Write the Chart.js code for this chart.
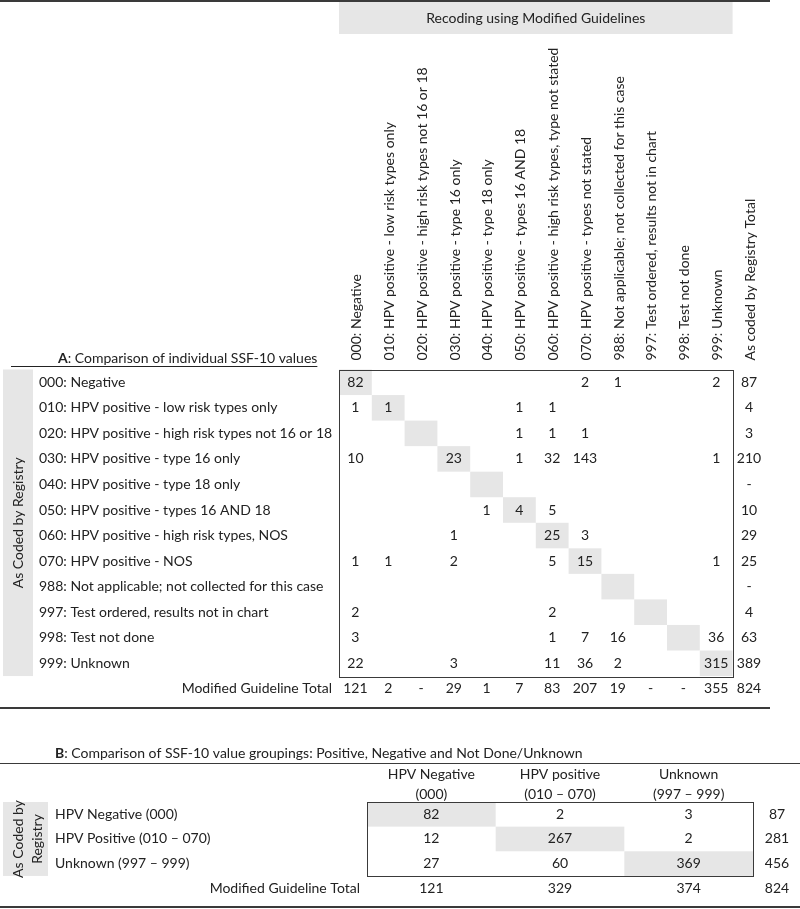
<!DOCTYPE html>
<html>
<head>
<meta charset="utf-8">
<script src="https://cdn.jsdelivr.net/npm/chart.js@4.4.1/dist/chart.umd.min.js"></script>
<style>
  html, body { margin: 0; padding: 0; background: #fff; }
  #wrap { position: relative; width: 800px; height: 909px; }
  #tableA { position: absolute; left: 0; top: 0; }
  #tableB { position: absolute; left: 0; top: 710px; }
</style>
</head>
<body>
<div id="wrap">
  <canvas id="tableA" width="800" height="710"></canvas>
  <canvas id="tableB" width="800" height="199"></canvas>
</div>
<script>
// ---- table A: individual SSF-10 values ----
const modifiedCodes = [
  '000: Negative',
  '010: HPV positive - low risk types only',
  '020: HPV positive - high risk types not 16 or 18',
  '030: HPV positive - type 16 only',
  '040: HPV positive - type 18 only',
  '050: HPV positive - types 16 AND 18',
  '060: HPV positive - high risk types, type not stated',
  '070: HPV positive - types not stated',
  '988: Not applicable; not collected for this case',
  '997: Test ordered, results not in chart',
  '998: Test not done',
  '999: Unknown'
];
const registryCodes = [
  '000: Negative',
  '010: HPV positive - low risk types only',
  '020: HPV positive - high risk types not 16 or 18',
  '030: HPV positive - type 16 only',
  '040: HPV positive - type 18 only',
  '050: HPV positive - types 16 AND 18',
  '060: HPV positive - high risk types, NOS',
  '070: HPV positive - NOS',
  '988: Not applicable; not collected for this case',
  '997: Test ordered, results not in chart',
  '998: Test not done',
  '999: Unknown'
];
const registryTotalLabel = 'As coded by Registry Total';
const guidelineTotalLabel = 'Modified Guideline Total';
const headerA = 'Recoding using Modified Guidelines';
const sideLabelA = 'As Coded by Registry';

// rows = as coded by registry, columns = modified guideline recode
const countsA = [
  [82, null, null, null, null, null, null, 2, 1, null, null, 2],
  [1, 1, null, null, null, 1, 1, null, null, null, null, null],
  [null, null, null, null, null, 1, 1, 1, null, null, null, null],
  [10, null, null, 23, null, 1, 32, 143, null, null, null, 1],
  [null, null, null, null, null, null, null, null, null, null, null, null],
  [null, null, null, null, 1, 4, 5, null, null, null, null, null],
  [null, null, null, 1, null, null, 25, 3, null, null, null, null],
  [1, 1, null, 2, null, null, 5, 15, null, null, null, 1],
  [null, null, null, null, null, null, null, null, null, null, null, null],
  [2, null, null, null, null, null, 2, null, null, null, null, null],
  [3, null, null, null, null, null, 1, 7, 16, null, null, 36],
  [22, null, null, 3, null, null, 11, 36, 2, null, null, 315]
];
const registryTotalsA = [87, 4, 3, 210, 0, 10, 29, 25, 0, 4, 63, 389];
const guidelineTotalsA = [121, 2, 0, 29, 1, 7, 83, 207, 19, 0, 0, 355];
const grandTotalA = 824;

// ---- table B: value groupings ----
const groupCols = [['HPV Negative', '(000)'], ['HPV positive', '(010 \u2013 070)'], ['Unknown', '(997 \u2013 999)']];
const groupColKeys = groupCols.map(c => c.join(' '));
const groupRows = ['HPV Negative (000)', 'HPV Positive (010 \u2013 070)', 'Unknown (997 \u2013 999)'];
const sideLabelB = ['As Coded by', 'Registry'];
const countsB = [
  [82, 2, 3],
  [12, 267, 2],
  [27, 60, 369]
];
const registryTotalsB = [87, 281, 456];
const guidelineTotalsB = [121, 329, 374];
const grandTotalB = 824;

const FONT = 'Lato, "Liberation Sans", sans-serif';
const FS = 14;
const INK = '#222222';
const SHADE = '#e6e6e6';
const RULE = '#3a3a3a';

const fmt = v => (v === 0 ? '-' : String(v));

// shaded diagonal + cell numbers, placed by the category scales
const cellPlugin = {
  id: 'cells',
  beforeDatasetsDraw(chart) {
    const { ctx, scales: { x, y } } = chart;
    const cw = x.width / x.ticks.length;
    const rh = y.height / y.ticks.length;
    ctx.save();
    ctx.fillStyle = SHADE;
    chart.data.datasets.forEach((ds, i) => {
      if (!ds.shade) return;
      chart.getDatasetMeta(i).data.forEach(el => {
        ctx.fillRect(el.x - cw / 2, el.y - rh / 2, cw, rh);
      });
    });
    ctx.restore();
  },
  afterDatasetsDraw(chart) {
    const ctx = chart.ctx;
    ctx.save();
    ctx.font = FS + 'px ' + FONT;
    ctx.fillStyle = INK;
    ctx.textAlign = 'center';
    ctx.textBaseline = 'middle';
    chart.data.datasets.forEach((ds, i) => {
      if (ds.shade) return;
      chart.getDatasetMeta(i).data.forEach((el, k) => {
        ctx.fillText(ds.data[k].text, el.x, el.y);
      });
    });
    ctx.restore();
  }
};

function drawTitle(ctx, key, rest, x, y) {
  ctx.font = 'bold ' + FS + 'px ' + FONT;
  ctx.textAlign = 'left';
  ctx.textBaseline = 'middle';
  ctx.fillText(key, x, y);
  const w = ctx.measureText(key).width;
  ctx.font = FS + 'px ' + FONT;
  ctx.fillText(rest, x + w, y);
  return x + w + ctx.measureText(rest).width;
}

function rule(ctx, x0, x1, y, w) {
  ctx.beginPath();
  ctx.lineWidth = w;
  ctx.moveTo(x0, y);
  ctx.lineTo(x1, y);
  ctx.stroke();
}

// ---- chart A ----
const cellsA = [];
countsA.forEach((row, r) => row.forEach((v, c) => {
  if (v !== null) cellsA.push({ x: modifiedCodes[c], y: registryCodes[r], text: fmt(v) });
}));
registryTotalsA.forEach((v, r) => cellsA.push({ x: registryTotalLabel, y: registryCodes[r], text: fmt(v) }));
guidelineTotalsA.forEach((v, c) => cellsA.push({ x: modifiedCodes[c], y: guidelineTotalLabel, text: fmt(v) }));
cellsA.push({ x: registryTotalLabel, y: guidelineTotalLabel, text: fmt(grandTotalA) });
const diagA = registryCodes.map((r, i) => ({ x: modifiedCodes[i], y: r }));

const decorA = {
  id: 'decorA',
  beforeDraw(chart) {
    const { ctx, chartArea: a, scales: { x, y } } = chart;
    const boxR = a.left + x.width / x.ticks.length * modifiedCodes.length;
    const boxB = a.top + y.height / y.ticks.length * registryCodes.length;
    ctx.save();
    ctx.fillStyle = SHADE;
    ctx.fillRect(a.left, 2, boxR - a.left, 32);
    ctx.fillRect(3, a.top, 30, boxB - a.top);
    ctx.restore();
  },
  afterDraw(chart) {
    const { ctx, chartArea: a, scales: { x, y } } = chart;
    const boxR = a.left + x.width / x.ticks.length * modifiedCodes.length;
    const boxB = a.top + y.height / y.ticks.length * registryCodes.length;
    ctx.save();
    ctx.strokeStyle = RULE;
    ctx.lineWidth = 1;
    ctx.strokeRect(Math.round(a.left) + 0.5, Math.round(a.top) + 0.5, Math.round(boxR - a.left), Math.round(boxB - a.top));
    ctx.fillStyle = INK;
    ctx.font = FS + 'px ' + FONT;
    ctx.textAlign = 'center';
    ctx.textBaseline = 'middle';
    ctx.fillText(headerA, (a.left + boxR) / 2, 18);
    ctx.textAlign = 'right';
    ctx.fillText(guidelineTotalLabel, a.left - 7, y.getPixelForValue(registryCodes.length));
    const end = drawTitle(ctx, 'A', ': Comparison of individual SSF-10 values', 58, 358);
    ctx.strokeStyle = INK;
    rule(ctx, 11, end, 366.5, 1);
    ctx.strokeStyle = RULE;
    rule(ctx, 0, 770, 1, 2);
    rule(ctx, 0, 770, 708, 2);
    ctx.translate(18, (a.top + boxB) / 2);
    ctx.rotate(-Math.PI / 2);
    ctx.textAlign = 'center';
    ctx.font = FS + 'px ' + FONT;
    ctx.fillText(sideLabelA, 0, 0);
    ctx.restore();
  }
};

new Chart(document.getElementById('tableA'), {
  type: 'scatter',
  data: {
    datasets: [
      { data: diagA, shade: true, pointRadius: 0 },
      { data: cellsA, pointRadius: 0 }
    ]
  },
  options: {
    responsive: false,
    animation: false,
    events: [],
    layout: { padding: { left: 39, top: 0, right: 34.6, bottom: 3.8 } },
    plugins: { legend: { display: false }, tooltip: { enabled: false } },
    scales: {
      x: {
        type: 'category',
        position: 'top',
        labels: [...modifiedCodes, registryTotalLabel],
        offset: true,
        grid: { display: false },
        border: { display: false },
        ticks: {
          autoSkip: false, minRotation: 90, maxRotation: 90, padding: 1, labelOffset: 18,
          color: INK, font: { family: FONT, size: FS }
        },
        afterFit: s => { s.height = 369.5; }
      },
      y: {
        type: 'category',
        labels: [...registryCodes, guidelineTotalLabel],
        offset: true,
        grid: { display: false },
        border: { display: false },
        ticks: {
          autoSkip: false, crossAlign: 'far', padding: 0,
          color: INK, font: { family: FONT, size: FS },
          callback: function (v, i) { return i < registryCodes.length ? this.getLabelForValue(v) : ''; }
        },
        afterFit: s => { s.width = 300; }
      }
    }
  },
  plugins: [cellPlugin, decorA]
});

// ---- chart B ----
const cellsB = [];
countsB.forEach((row, r) => row.forEach((v, c) => {
  cellsB.push({ x: groupColKeys[c], y: groupRows[r], text: fmt(v) });
}));
guidelineTotalsB.forEach((v, c) => cellsB.push({ x: groupColKeys[c], y: guidelineTotalLabel, text: fmt(v) }));
const diagB = groupRows.map((r, i) => ({ x: groupColKeys[i], y: r }));

const decorB = {
  id: 'decorB',
  beforeDraw(chart) {
    const { ctx, chartArea: a, scales: { y } } = chart;
    const boxB = a.top + y.height / y.ticks.length * groupRows.length;
    ctx.save();
    ctx.fillStyle = SHADE;
    ctx.fillRect(3, a.top, 45, boxB - a.top);
    ctx.restore();
  },
  afterDraw(chart) {
    const { ctx, chartArea: a, scales: { x, y } } = chart;
    const boxB = a.top + y.height / y.ticks.length * groupRows.length;
    ctx.save();
    ctx.strokeStyle = RULE;
    ctx.lineWidth = 1;
    ctx.strokeRect(Math.round(a.left) + 0.5, Math.round(a.top) + 0.5, Math.round(a.right - a.left), Math.round(boxB - a.top));
    ctx.fillStyle = INK;
    ctx.font = FS + 'px ' + FONT;
    ctx.textAlign = 'center';
    ctx.textBaseline = 'middle';
    const tx = a.right + 24;
    registryTotalsB.forEach((v, r) => ctx.fillText(fmt(v), tx, y.getPixelForValue(r)));
    ctx.fillText(fmt(grandTotalB), tx, y.getPixelForValue(groupRows.length));
    ctx.textAlign = 'right';
    ctx.fillText(guidelineTotalLabel, a.left - 7, y.getPixelForValue(groupRows.length));
    drawTitle(ctx, 'B', ': Comparison of SSF-10 value groupings: Positive, Negative and Not Done/Unknown', 55, 43);
    ctx.strokeStyle = RULE;
    rule(ctx, 0, 800, 53.5, 1.2);
    rule(ctx, 0, 800, 197, 2);
    ctx.translate(28, (a.top + boxB) / 2);
    ctx.rotate(-Math.PI / 2);
    ctx.textAlign = 'center';
    ctx.font = FS + 'px ' + FONT;
    ctx.fillText(sideLabelB[0], 0, -10);
    ctx.fillText(sideLabelB[1], 0, 9);
    ctx.restore();
  }
};

new Chart(document.getElementById('tableB'), {
  type: 'scatter',
  data: {
    datasets: [
      { data: diagB, shade: true, pointRadius: 0 },
      { data: cellsB, pointRadius: 0 }
    ]
  },
  options: {
    responsive: false,
    animation: false,
    events: [],
    layout: { padding: { left: 55, top: 0, right: 47, bottom: 1 } },
    plugins: { legend: { display: false }, tooltip: { enabled: false } },
    scales: {
      x: {
        type: 'category',
        position: 'top',
        labels: groupColKeys,
        offset: true,
        grid: { display: false },
        border: { display: false },
        ticks: {
          autoSkip: false, maxRotation: 0, padding: -10,
          color: INK, font: { family: FONT, size: FS, lineHeight: '20px' },
          callback: (v, i) => groupCols[i]
        },
        afterFit: s => { s.height = 92; }
      },
      y: {
        type: 'category',
        labels: [...groupRows, guidelineTotalLabel],
        offset: true,
        grid: { display: false },
        border: { display: false },
        ticks: {
          autoSkip: false, crossAlign: 'far', padding: 0,
          color: INK, font: { family: FONT, size: FS },
          callback: function (v, i) { return i < groupRows.length ? this.getLabelForValue(v) : ''; }
        },
        afterFit: s => { s.width = 312; }
      }
    }
  },
  plugins: [cellPlugin, decorB]
});
</script>
</body>
</html>
